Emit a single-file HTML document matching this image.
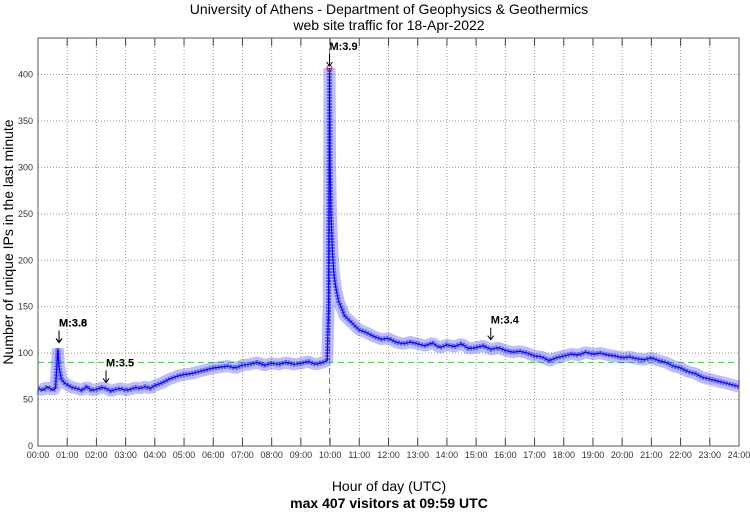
<!DOCTYPE html>
<html><head><meta charset="utf-8"><style>
body{margin:0;background:#fff;font-family:"Liberation Sans",sans-serif}
svg text{font-family:"Liberation Sans",sans-serif}
</style></head><body>
<svg id="c" width="750" height="511">
<text x="389" y="14" font-size="14" text-anchor="middle">University of Athens - Department of Geophysics &amp; Geothermics</text>
<text x="389" y="30" font-size="14" text-anchor="middle">web site traffic for 18-Apr-2022</text>
<text x="389" y="491" font-size="14" text-anchor="middle">Hour of day (UTC)</text>
<text x="389" y="508" font-size="14" font-weight="bold" text-anchor="middle">max 407 visitors at 09:59 UTC</text>
<text transform="translate(13,242) rotate(-90)" font-size="14" text-anchor="middle">Number of unique IPs in the last minute</text>
<g id="grid"></g><g id="series"></g><g id="annot"></g>
<rect x="38" y="38" width="701" height="408" fill="none" stroke="#555" stroke-width="1"/>
</svg>
<script>
const times=[0,0.17,0.33,0.5,0.6,0.68,0.72,0.8,0.9,1.0,1.17,1.33,1.5,1.67,1.83,2.0,2.17,2.33,2.5,2.67,2.83,3.0,3.17,3.33,3.5,3.67,3.83,4.0,4.25,4.5,4.75,5.0,5.25,5.5,5.75,6.0,6.25,6.5,6.75,7.0,7.25,7.5,7.75,8.0,8.25,8.5,8.75,9.0,9.25,9.5,9.75,9.9,9.95,9.98,10.0,10.03,10.08,10.13,10.2,10.3,10.4,10.5,10.67,10.83,11.0,11.25,11.5,11.75,12.0,12.25,12.5,12.75,13.0,13.25,13.5,13.75,14.0,14.25,14.5,14.75,15.0,15.25,15.5,15.75,16.0,16.25,16.5,16.75,17.0,17.25,17.5,17.75,18.0,18.25,18.5,18.75,19.0,19.25,19.5,19.75,20.0,20.25,20.5,20.75,21.0,21.25,21.5,21.75,22.0,22.25,22.5,22.75,23.0,23.25,23.5,23.75,24.0];
const visits=[62,60,64,60,62,105,85,72,68,66,63,62,60,64,60,61,63,62,59,61,62,60,61,63,62,64,62,65,68,72,75,77,78,80,82,84,85,86,84,87,88,90,87,89,88,90,88,89,91,88,90,92,150,407,300,250,210,185,170,155,148,140,135,130,125,122,118,115,116,112,110,112,110,108,111,106,109,107,110,105,106,108,104,106,103,101,102,100,97,96,92,95,97,99,98,101,99,100,98,97,95,96,94,93,95,92,90,86,84,80,78,74,72,70,68,66,64,65,64];
const xTicks=[0,1,2,3,4,5,6,7,8,9,10,11,12,13,14,15,16,17,18,19,20,21,22,23,24];
const yTicks=[0,50,100,150,200,250,300,350,400];
const events=[{t:0.72,label:"M:3.6",v:105},{t:0.72,label:"M:3.8",v:105},{t:2.33,label:"M:3.5",v:62},{t:9.98,label:"M:3.9",v:407},{t:15.5,label:"M:3.4",v:108}];
const X0=38,X1=739,Y0=446,YT=74.5,YMAX=400;
const sx=h=>X0+(X1-X0)*h/24, sy=v=>Y0-(Y0-YT)*v/YMAX;
const NS="http://www.w3.org/2000/svg";
function mk(tag,attrs,parent){const e=document.createElementNS(NS,tag);for(const k in attrs)e.setAttribute(k,attrs[k]);parent.appendChild(e);return e;}
const grid=document.getElementById('grid'),ser=document.getElementById('series'),an=document.getElementById('annot');
xTicks.forEach(h=>{const x=sx(h);
 let g=mk('line',{x1:x,x2:x,y1:38,y2:446,stroke:'#999','stroke-dasharray':'1,2','stroke-width':1},grid);
 
 mk('line',{x1:x,x2:x,y1:38,y2:46,stroke:'#444'},grid);mk('line',{x1:x,x2:x,y1:438,y2:446,stroke:'#444'},grid);
 let t=mk('text',{x:x,y:458,'font-size':9,'text-anchor':'middle',fill:'#333'},grid);
 t.textContent=String(h).padStart(2,'0')+':00';
 });
yTicks.forEach(v=>{const y=sy(v);
 if(v>0){let g=mk('line',{x1:38,x2:739,y1:y,y2:y,stroke:'#999','stroke-dasharray':'1,2'},grid);
 }
 let t=mk('text',{x:33,y:y+3,'font-size':9,'text-anchor':'end',fill:'#333'},grid);
 t.textContent=v;});
let avg=mk('line',{x1:38,x2:739,y1:sy(90),y2:sy(90),stroke:'#5c5','stroke-dasharray':'6,4','stroke-width':1.2},ser);

let vl=mk('line',{x1:sx(9.98),x2:sx(9.98),y1:38,y2:446,stroke:'#e55','stroke-dasharray':'6,4','stroke-width':1},ser);

const pts=times.map((t,i)=>sx(t).toFixed(1)+','+sy(visits[i]).toFixed(1)).join(' ');
let band=mk('polyline',{points:pts,fill:'none',stroke:'#44f','stroke-width':12,'stroke-opacity':0.35,'stroke-linejoin':'bevel'},ser);

let band2=mk('polyline',{points:pts,fill:'none',stroke:'#11f','stroke-width':5,'stroke-opacity':0.55,'stroke-linejoin':'bevel','stroke-dasharray':'2,1'},ser);

let ln=mk('polyline',{points:pts,fill:'none',stroke:'#00f','stroke-width':1.2},ser);

let pk=mk('circle',{cx:sx(9.98),cy:sy(407),r:2.5,fill:'none',stroke:'#e00'},ser);

events.forEach(e=>{const x=sx(e.t),yb=sy(e.v)-(e.v>300?2:6);
 let a=mk('path',{d:`M${x},${yb-12}L${x},${yb}M${x-3},${yb-4}L${x},${yb}L${x+3},${yb-4}`,stroke:'#000',fill:'none','stroke-width':1},an);
 
 let t=mk('text',{x:x,y:yb-16,'font-size':11,'font-weight':'bold'},an);
 t.textContent=e.label;});
</script>
</body></html>
